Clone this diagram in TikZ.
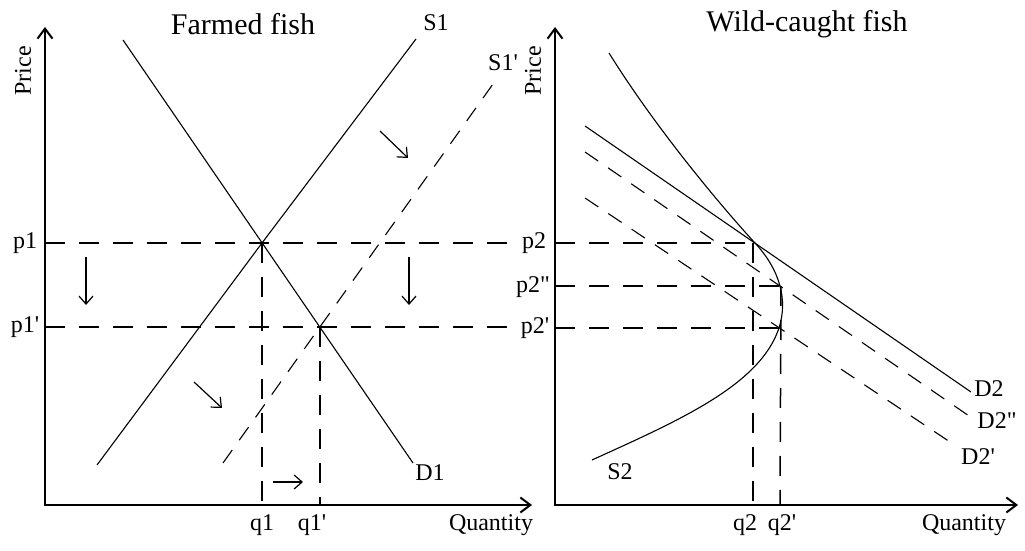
\documentclass[tikz,border=0pt]{standalone}
\usepackage{fontspec}
\setmainfont{Liberation Serif}
\usetikzlibrary{arrows.meta}
\newcommand{\fishaxes}[4]{%
  \coordinate (#4top) at (#1,27);
  \coordinate (#4o) at (#1,505);
  \coordinate (#4end) at (#2,505);
  \draw[axis] (#4top) -- (#4o) -- (#4end);
  \node[rotate=90] (#4price) at ({#1-22},71) {Price};
  \node (#4qty) at (#3,525) {Quantity};
}
\newcommand{\pricelevel}[4]{%
  \coordinate (#1axis) at (#2,#3);
  \draw[guide] (#1axis) -- (#4);
}
\newcommand{\pr}{\textquotesingle}

\begin{document}
\begin{tikzpicture}[x=.5pt,y=-.5pt,font=\fontsize{12}{14}\selectfont,
    axis/.style={line width=1pt,{Straight Barb[length=5pt,width=7.5pt]}-{Straight Barb[length=5pt,width=7.5pt]}},
    curve/.style={line width=.55pt},
    shifted/.style={line width=.55pt,dash pattern=on 8pt off 6pt},
    guide/.style={line width=.75pt,dash pattern=on 10pt off 7pt},
    move/.style={line width=.6pt,-{Straight Barb[length=4pt,width=7pt]}},
    title/.style={font=\fontsize{15}{18}\selectfont}]
  \useasboundingbox (0,0) rectangle (1025,551);

  % farmed fish
  \fishaxes{45}{532}{491}{left}
  \node[title] (farmed) at (243,24) {Farmed fish};
  \coordinate (E1) at (262,243);
  \coordinate (E1s) at (320,327);
  \coordinate (D1top) at (123,40);
  \coordinate (D1bot) at (413,463);
  \coordinate (S1bot) at (97,465);
  \coordinate (S1top) at (416,39);
  \coordinate (S1sbot) at (223,463);
  \coordinate (S1stop) at (498,77);
  \draw[curve] (D1top) -- (D1bot);
  \draw[curve] (S1bot) -- (E1) -- (S1top);
  \draw[shifted] (S1sbot) -- (S1stop);
  \node (d1) at (430,473) {D1};
  \node (s1) at (436,23) {S1};
  \node (s1s) at (503,63) {S1\pr};
  \coordinate (P1end) at (515,243);
  \coordinate (P1send) at (515,327);
  \pricelevel{P1}{45}{243}{P1end}
  \pricelevel{P1s}{45}{327}{P1send}
  \coordinate (Q1) at (262,505);
  \coordinate (Q1s) at (320,505);
  \draw[guide] (E1) -- (Q1);
  \draw[guide] (E1s) -- (Q1s);
  \node (p1) at (25,243) {p1};
  \node (p1s) at (25,327) {p1\pr};
  \node (q1) at (262,525) {q1};
  \node (q1s) at (312,525) {q1\pr};
  \draw[move] (86,257) -- (86,305);
  \draw[move] (409,257) -- (409,305);
  \draw[move] (380,131) -- (408,158);
  \draw[move] (194,382) -- (222,408);
  \draw[move] (273,482) -- (303,482);

  % wild-caught fish
  \fishaxes{555}{1018}{964}{right}
  \node[title] (wild) at (807,24) {Wild-caught fish};
  \coordinate (E2) at (755,243);
  \coordinate (E2ss) at (781,286);
  \coordinate (E2s) at (779,328);
  \coordinate (S2bot) at (592,460);
  \coordinate (S2top) at (609,53);
  % backward-bending supply
  \draw[curve] (S2bot) .. controls (680,420) and (760,385) .. (E2s)
    .. controls (788,300) and (780,270) .. (E2)
    .. controls (730,216) and (660,135) .. (S2top);
  \coordinate (D2a) at (585,126);
  \coordinate (D2b) at (971,392);
  \coordinate (D2ssa) at (585,152);
  \coordinate (D2ssb) at (972,418);
  \coordinate (D2sa) at (585,198);
  \coordinate (D2sb) at (953,444);
  \draw[curve] (D2a) -- (D2b);
  \draw[shifted] (D2ssa) -- (D2ssb);
  \draw[shifted] (D2sa) -- (D2sb);
  \node (d2) at (989,389) {D2};
  \node (d2ss) at (997,421) {D2\textquotedbl};
  \node (d2s) at (978,457) {D2\pr};
  \node (s2) at (620,472) {S2};
  \pricelevel{P2}{555}{243}{E2}
  \pricelevel{P2ss}{555}{286}{E2ss}
  \pricelevel{P2s}{555}{328}{E2s}
  \coordinate (Q2) at (753,505);
  \coordinate (Q2s) at (780,505);
  \draw[guide] (753,243) -- (Q2);
  \draw[guide] (E2ss) -- (Q2s);
  \node (p2) at (534,243) {p2};
  \node (p2ss) at (533,287) {p2\textquotedbl};
  \node (p2s) at (535,328) {p2\pr};
  \node (q2) at (745,525) {q2};
  \node (q2s) at (782,525) {q2\pr};
\end{tikzpicture}
\end{document}
